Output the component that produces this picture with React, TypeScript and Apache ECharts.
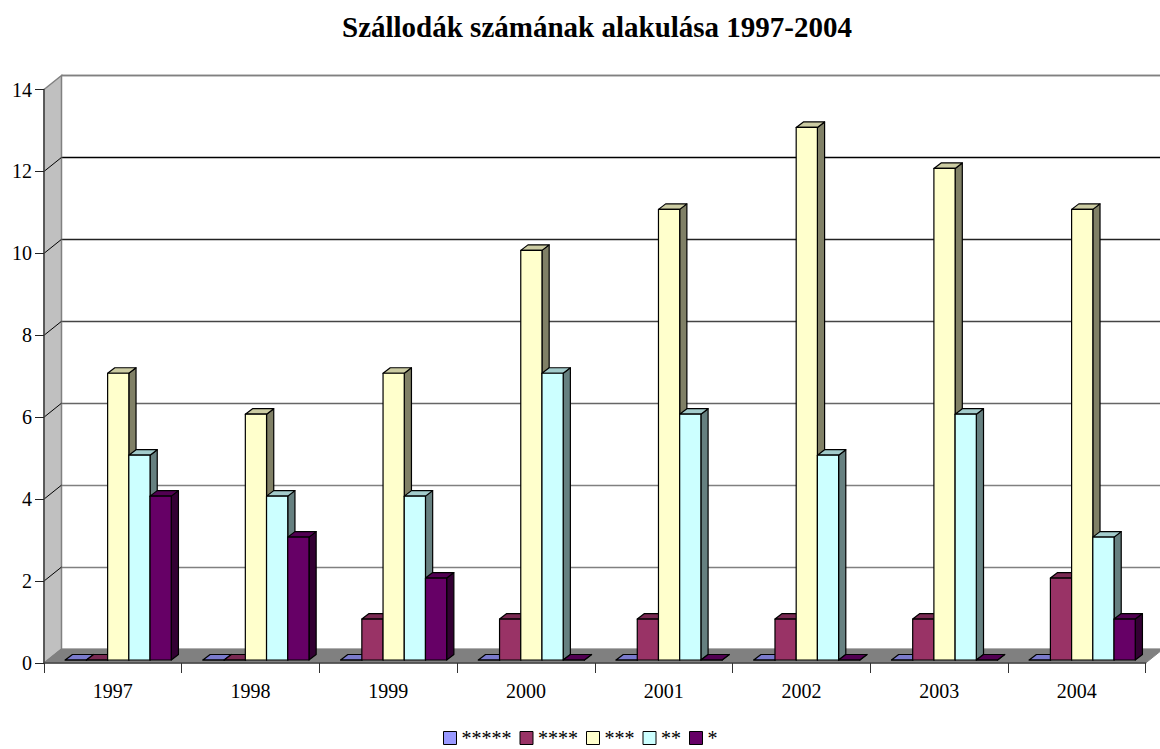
import React, { useEffect, useRef } from "react";
import * as echarts from "echarts";

const years = ["1997", "1998", "1999", "2000", "2001", "2002", "2003", "2004"];
const star5 = [0, 0, 0, 0, 0, 0, 0, 0];
const star4 = [0, 0, 1, 1, 1, 1, 1, 2];
const star3 = [7, 6, 7, 10, 11, 13, 12, 11];
const star2 = [5, 4, 4, 7, 6, 5, 6, 3];
const star1 = [4, 3, 2, 0, 0, 0, 0, 1];
const yTicks = [0, 2, 4, 6, 8, 10, 12, 14];
const seriesNames = ["*****", "****", "***", "**", "*"];
const seriesValues = [star5, star4, star3, star2, star1];
const frontColors = ["#9999ff", "#993366", "#ffffcc", "#ccffff", "#660066"];
const topColors = ["#7a7acc", "#7a2952", "#cccca3", "#a3cccc", "#520052"];
const sideColors = ["#4c4c80", "#4c1933", "#808066", "#668080", "#330033"];
const gridColors = ["#808080", "#808080", "#808080", "#666666", "#444444", "#222222", "#000000", "#808080"];

const FONT = '"Liberation Serif", "Times New Roman", serif';
const WALL_DX = 17.5;
const WALL_DY = -14;
const BAR_DX = 7.2;
const BAR_DY = -5.5;
const BASE_LIFT = 3;
const BAR_RATIO = 0.154;

function wallRender(params: any, api: any) {
  const cs = params.coordSys;
  const left = cs.x;
  const right = cs.x + cs.width;
  const top = cs.y;
  const bottom = cs.y + cs.height;
  const children: any[] = [
    {
      type: "polygon",
      shape: {
        points: [
          [left, top],
          [left + WALL_DX, top + WALL_DY],
          [left + WALL_DX, bottom + WALL_DY],
          [left, bottom],
        ],
      },
      style: { fill: "#c0c0c0", stroke: "#808080", lineWidth: 1.5 },
    },
    {
      type: "polygon",
      shape: {
        points: [
          [left, bottom],
          [left + WALL_DX, bottom + WALL_DY],
          [right + WALL_DX, bottom + WALL_DY],
          [right, bottom],
        ],
      },
      style: { fill: "#808080", stroke: "#808080", lineWidth: 1 },
    },
    {
      type: "line",
      shape: { x1: left + WALL_DX, y1: top + WALL_DY, x2: right + WALL_DX, y2: top + WALL_DY },
      style: { stroke: "#808080", lineWidth: 1.5 },
    },
  ];
  yTicks.forEach((v) => {
    if (v === 0 || v === 14) return;
    const y = api.coord([0, v])[1];
    children.push({
      type: "line",
      shape: { x1: left, y1: y, x2: left + WALL_DX, y2: y + WALL_DY },
      style: { stroke: "#000", lineWidth: 1 },
    });
  });
  return { type: "group", children };
}

function barRender(seriesIdx: number) {
  return (_params: any, api: any) => {
    const cat = api.value(0);
    const val = api.value(1);
    const [cx, zeroY] = api.coord([cat, 0]);
    const topY = api.coord([cat, val])[1] - BASE_LIFT;
    const baseY = zeroY - BASE_LIFT;
    const catW = api.size([1, 0])[0];
    const w = catW * BAR_RATIO;
    const x0 = cx - catW / 2 + w + seriesIdx * w;
    const x1 = x0 + w;
    const stroke = { stroke: "#000", lineWidth: 1.2, lineJoin: "round" };
    return {
      type: "group",
      children: [
        {
          type: "polygon",
          shape: {
            points: [
              [x1, topY],
              [x1 + BAR_DX, topY + BAR_DY],
              [x1 + BAR_DX, baseY + BAR_DY],
              [x1, baseY],
            ],
          },
          style: { fill: sideColors[seriesIdx], ...stroke },
        },
        {
          type: "polygon",
          shape: {
            points: [
              [x0, topY],
              [x0 + BAR_DX, topY + BAR_DY],
              [x1 + BAR_DX, topY + BAR_DY],
              [x1, topY],
            ],
          },
          style: { fill: topColors[seriesIdx], ...stroke },
        },
        {
          type: "polygon",
          shape: {
            points: [
              [x0, topY],
              [x1, topY],
              [x1, baseY],
              [x0, baseY],
            ],
          },
          style: { fill: frontColors[seriesIdx], ...stroke },
        },
      ],
    };
  };
}

export default function App() {
  const ref = useRef<HTMLDivElement>(null);
  useEffect(() => {
    const chart = echarts.init(ref.current!, null, { renderer: "svg" });
    const axisText = { color: "#000", fontFamily: FONT, fontSize: 20 };
    chart.setOption({
      animation: false,
      backgroundColor: "#fff",
      title: {
        text: "Szállodák számának alakulása 1997-2004",
        left: 592,
        top: 7,
        textAlign: "center",
        textStyle: { color: "#000", fontFamily: FONT, fontSize: 29, fontWeight: "bold" },
      },
      legend: {
        data: seriesNames,
        left: 443,
        top: 728,
        padding: 0,
        icon: "rect",
        itemWidth: 13,
        itemHeight: 13,
        itemGap: 8,
        itemStyle: { borderColor: "#000", borderWidth: 1 },
        textStyle: { color: "#000", fontFamily: FONT, fontSize: 20 },
      },
      grid: [
        { left: 44, width: 1101.7, top: 89.5, height: 573.5 },
        { left: 61.5, width: 1101.7, top: 75.5, height: 573.5 },
      ],
      xAxis: [
        {
          type: "category",
          gridIndex: 0,
          data: years,
          z: 2,
          axisLine: { lineStyle: { color: "#444", width: 1.5 } },
          axisTick: { show: true, length: 10, lineStyle: { color: "#333", width: 1 } },
          axisLabel: { ...axisText, margin: 18 },
        },
        { type: "category", gridIndex: 1, data: years, show: false },
      ],
      yAxis: [
        {
          type: "value",
          gridIndex: 0,
          min: 0,
          max: 14,
          interval: 2,
          z: 2,
          splitLine: { show: false },
          axisLine: { show: true, lineStyle: { color: "#444", width: 1.5 } },
          axisTick: { show: true, length: 9, lineStyle: { color: "#222" } },
          axisLabel: { ...axisText, margin: 12 },
        },
        {
          type: "value",
          gridIndex: 1,
          min: 0,
          max: 14,
          interval: 2,
          axisLine: { show: false },
          axisTick: { show: false },
          axisLabel: { show: false },
          splitLine: { show: true, lineStyle: { color: gridColors, width: 1.3 } },
        },
      ],
      series: [
        {
          type: "custom",
          name: "walls",
          xAxisIndex: 0,
          yAxisIndex: 0,
          z: 1,
          silent: true,
          renderItem: wallRender,
          data: [[0, 0]],
          encode: { x: 0, y: 1 },
        },
        ...seriesNames.map((name, i) => ({
          type: "custom",
          name,
          xAxisIndex: 0,
          yAxisIndex: 0,
          z: 3,
          renderItem: barRender(i),
          itemStyle: { color: frontColors[i] },
          data: seriesValues[i].map((v, c) => [c, v]),
          encode: { x: 0, y: 1 },
        })),
      ],
    });
    return () => chart.dispose();
  }, []);
  return (
    <div
      ref={ref}
      style={{ position: "absolute", left: 0, top: 0, width: 1160, height: 749 }}
    />
  );
}
